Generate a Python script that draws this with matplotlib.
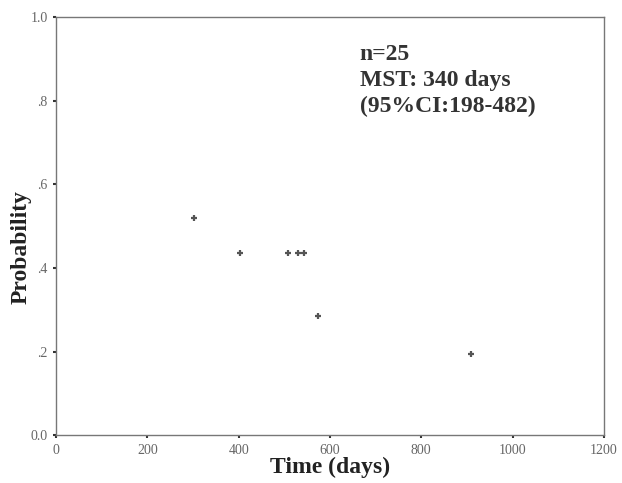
import matplotlib
matplotlib.use("Agg")
import matplotlib.pyplot as plt

# censored observations visible on the Kaplan-Meier plot
censor_days = [302, 403, 508, 530, 543, 574, 909]
censor_prob = [0.52, 0.435, 0.435, 0.435, 0.435, 0.285, 0.194]

x_ticks = [0, 200, 400, 600, 800, 1000, 1200]
y_ticks = [0.0, 0.2, 0.4, 0.6, 0.8, 1.0]
y_labels = ["0.0", ".2", ".4", ".6", ".8", "1.0"]

annotation = "n=25\nMST: 340 days\n(95%CI:198-482)"

plt.rcParams["font.family"] = "serif"
plt.rcParams["font.serif"] = ["Liberation Serif", "DejaVu Serif"]

fig = plt.figure(figsize=(6.22, 4.83), dpi=100)
ax = fig.add_axes([0.090, 0.099, 0.881, 0.866])

ax.plot(censor_days, censor_prob, linestyle="none", marker="+",
        markersize=4, markeredgewidth=1.6, color="#555555")

ax.set_xlim(0, 1200)
ax.set_ylim(0, 1.0)
ax.set_xticks(x_ticks)
ax.set_xticklabels([str(t) for t in x_ticks])
ax.set_yticks(y_ticks)
ax.set_yticklabels(y_labels)
ax.tick_params(direction="out", length=2, width=1.5, color="#333333",
               labelsize=10, labelcolor="#666666", pad=4)

for sp in ax.spines.values():
    sp.set_color("#777777")
    sp.set_linewidth(1.0)

ax.set_xlabel("Time (days)", fontsize=17, fontweight="bold", color="#222222", labelpad=0)
ax.set_ylabel("Probability", fontsize=17, fontweight="bold", color="#222222")
ax.yaxis.set_label_coords(-0.045, 0.45)

ax.text(665, 0.935, annotation, fontsize=17, fontweight="bold", color="#333333",
        va="top", ha="left", linespacing=1.3)

fig.savefig("out.png", dpi=100)
